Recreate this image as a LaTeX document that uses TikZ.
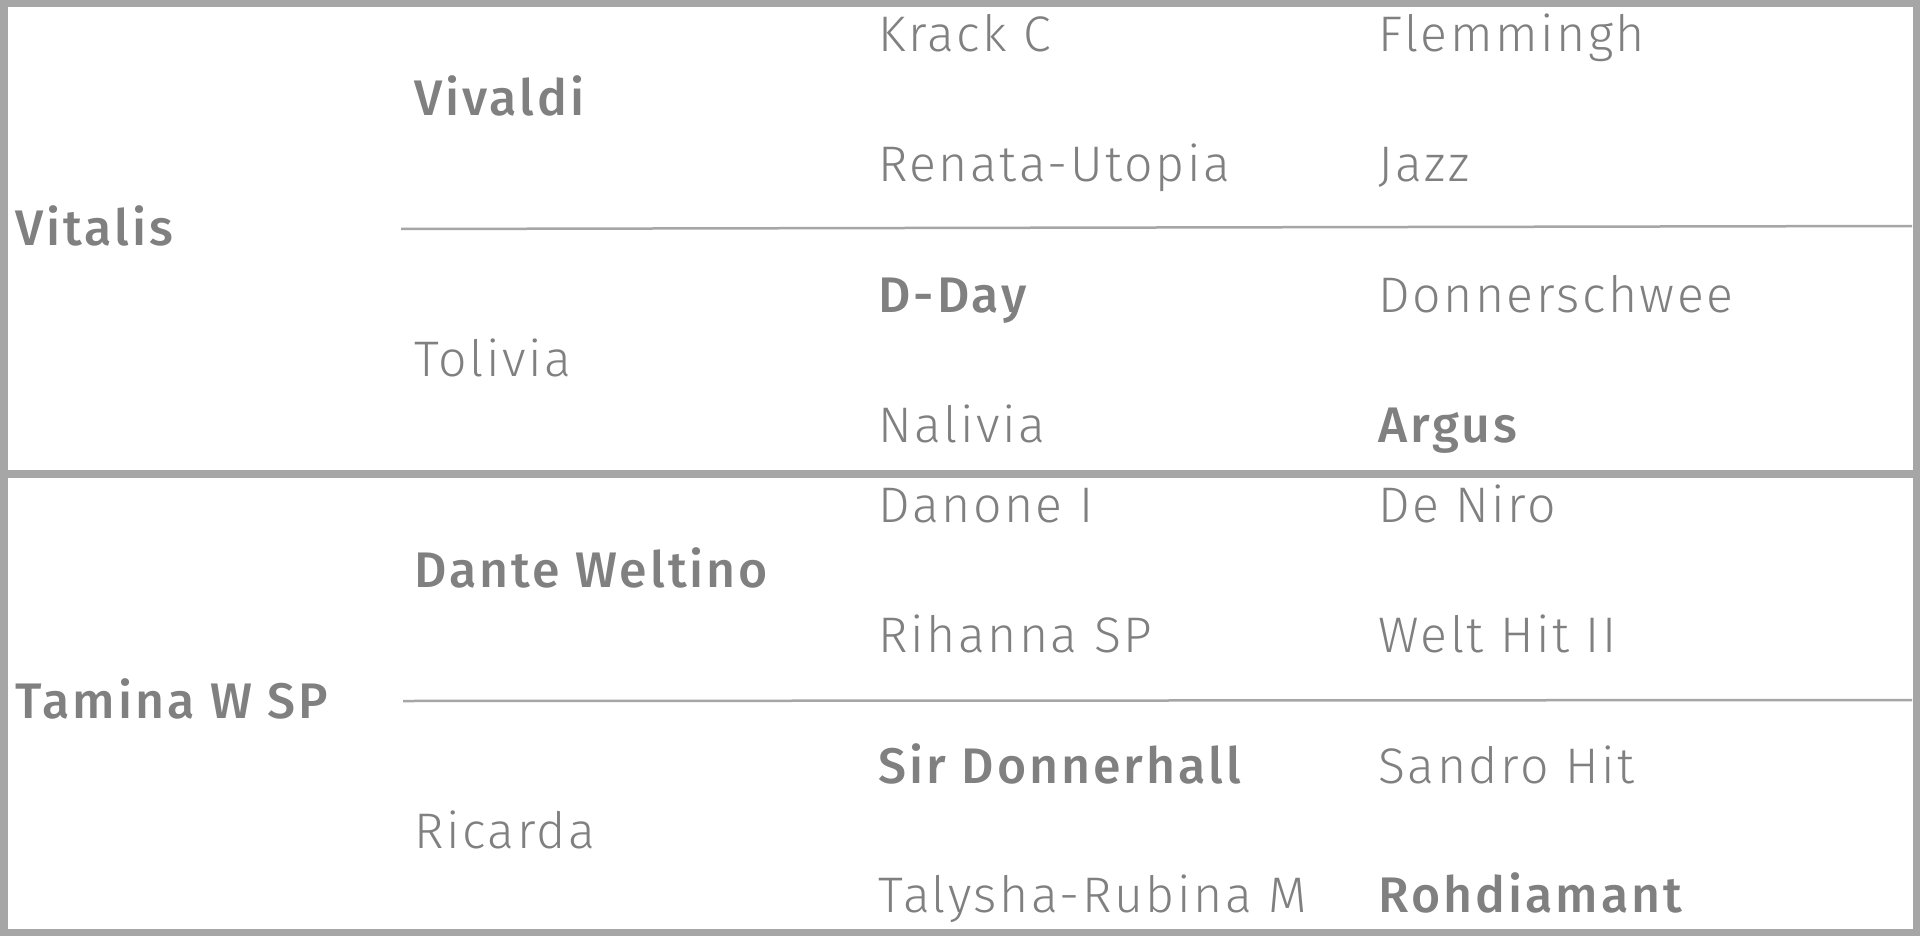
\documentclass[tikz,border=0pt]{standalone}
\usepackage{fontspec}
\setmainfont{Fira Sans}[UprightFont=* Light, BoldFont=* Medium, UprightFeatures={LetterSpace=5}, BoldFeatures={LetterSpace=6}]
\definecolor{rule}{HTML}{A6A6A6}
\definecolor{txt}{HTML}{808080}
\tikzset{
  horse/.style={anchor=base west, inner sep=0pt, text=txt, font=\fontsize{25}{30}\selectfont},
  sirehorse/.style={horse, font=\fontsize{25}{30}\selectfont\bfseries},
  frame/.style={draw=rule, line width=3.75pt},
  thickrule/.style={draw=rule, line width=4pt},
  thinrule/.style={draw=rule, line width=1.25pt}
}
\begin{document}
\begin{tikzpicture}[x=0.5pt, y=-0.5pt]
\useasboundingbox (0,0) rectangle (1920,936);
\fill[white] (0,0) rectangle (1920,936);
% frame and rules
\draw[frame] (3.75,3.75) rectangle (1916.25,932.25);
\coordinate (ml) at (0,474);
\coordinate (mr) at (1920,474);
\draw[thickrule] (ml) -- (mr);
\coordinate (u1) at (401,229);
\coordinate (u2) at (1912,226);
\draw[thinrule] (u1) -- (u2);
\coordinate (l1) at (403,701);
\coordinate (l2) at (1912,700);
\draw[thinrule] (l1) -- (l2);
% generation 1
\node[sirehorse] (vitalis) at (15,246) {Vitalis};
\node[sirehorse] (tamina) at (15,718) {Tamina W SP};
% generation 2
\node[sirehorse] (vivaldi) at (414,116) {Vivaldi};
\node[horse] (tolivia) at (414,376) {Tolivia};
\node[sirehorse] (dante) at (414,587) {Dante Weltino};
\node[horse] (ricarda) at (414,848) {Ricarda};
% generation 3
\node[horse] (krack) at (878,52) {Krack C};
\node[horse] (renata) at (878,182) {Renata-Utopia};
\node[sirehorse] (dday) at (878,312) {D-Day};
\node[horse] (nalivia) at (878,442) {Nalivia};
\node[horse] (danone) at (878,522) {Danone I};
\node[horse] (rihanna) at (878,652) {Rihanna SP};
\node[sirehorse] (sirdon) at (878,783) {Sir Donnerhall};
\node[horse] (talysha) at (878,912) {Talysha-Rubina M};
% generation 4
\node[horse] (flem) at (1378,52) {Flemmingh};
\node[horse] (jazz) at (1378,182) {Jazz};
\node[horse] (donner) at (1378,312) {Donnerschwee};
\node[sirehorse] (argus) at (1378,442) {Argus};
\node[horse] (deniro) at (1378,522) {De Niro};
\node[horse] (welthit) at (1378,652) {Welt Hit II};
\node[horse] (sandro) at (1378,783) {Sandro Hit};
\node[sirehorse] (rohd) at (1378,912) {Rohdiamant};
\end{tikzpicture}
\end{document}
